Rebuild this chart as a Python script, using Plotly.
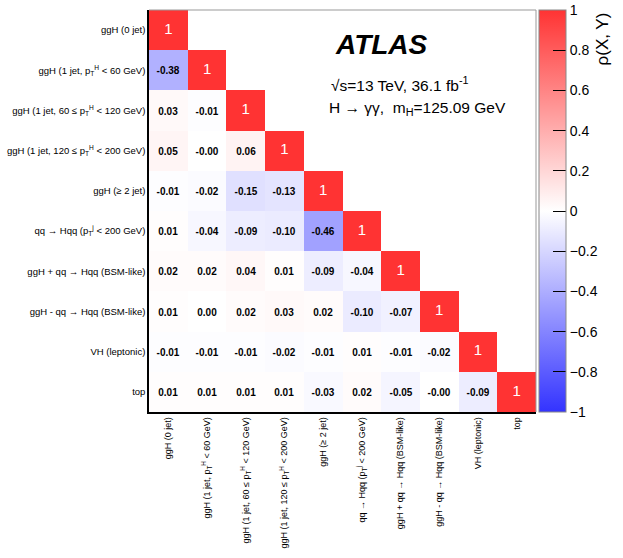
import plotly.graph_objects as go

# category names (rows top to bottom, columns left to right)
labels = [
    "ggH (0 jet)",
    "ggH (1 jet, p<sub>T</sub><sup>H</sup> &lt; 60 GeV)",
    "ggH (1 jet, 60 ≤ p<sub>T</sub><sup>H</sup> &lt; 120 GeV)",
    "ggH (1 jet, 120 ≤ p<sub>T</sub><sup>H</sup> &lt; 200 GeV)",
    "ggH (≥ 2 jet)",
    "qq → Hqq (p<sub>T</sub><sup>j</sup> &lt; 200 GeV)",
    "ggH + qq → Hqq (BSM-like)",
    "ggH - qq → Hqq (BSM-like)",
    "VH (leptonic)",
    "top",
]

# lower triangle of the correlation matrix, as printed
row0 = ["1"]
row1 = ["-0.38", "1"]
row2 = ["0.03", "-0.01", "1"]
row3 = ["0.05", "-0.00", "0.06", "1"]
row4 = ["-0.01", "-0.02", "-0.15", "-0.13", "1"]
row5 = ["0.01", "-0.04", "-0.09", "-0.10", "-0.46", "1"]
row6 = ["0.02", "0.02", "0.04", "0.01", "-0.09", "-0.04", "1"]
row7 = ["0.01", "0.00", "0.02", "0.03", "0.02", "-0.10", "-0.07", "1"]
row8 = ["-0.01", "-0.01", "-0.01", "-0.02", "-0.01", "0.01", "-0.01", "-0.02", "1"]
row9 = ["0.01", "0.01", "0.01", "0.01", "-0.03", "0.02", "-0.05", "-0.00", "-0.09", "1"]
rows = [row0, row1, row2, row3, row4, row5, row6, row7, row8, row9]

cbar_ticks = [-1, -0.8, -0.6, -0.4, -0.2, 0, 0.2, 0.4, 0.6, 0.8, 1]

n = len(labels)
z = []
txt = []
for r in rows:
    vals = [float(v) for v in r] + [None] * (n - len(r))
    t = list(r[:-1]) + [""] * (n - len(r) + 1)
    z.append(vals)
    txt.append(t)

FONT = "Liberation Sans, Arial, sans-serif"

fig = go.Figure()
fig.add_trace(go.Heatmap(
    z=z, x=list(range(n)), y=list(range(n)),
    text=txt, texttemplate="%{text}",
    textfont=dict(family=FONT, size=10, color="black", weight="bold"),
    zmin=-1, zmax=1,
    colorscale=[[0, "rgb(51,51,255)"], [0.5, "rgb(255,255,255)"], [1, "rgb(255,51,51)"]],
    hoverongaps=False,
    colorbar=dict(
        x=1.008, xanchor="left", y=0.5, yanchor="middle",
        len=1.01, lenmode="fraction", thickness=27, xpad=0, ypad=2,
        outlinewidth=1, outlinecolor="#888",
        tickvals=cbar_ticks,
        ticktext=["−" + f"{abs(v):g}" if v < 0 else f"{v:g}" for v in cbar_ticks],
        ticks="inside", ticklen=13, tickcolor="black",
        tickfont=dict(family=FONT, size=14, color="black"),
    ),
))

# diagonal "1" labels in white
fig.add_trace(go.Scatter(
    x=list(range(n)), y=list(range(n)), mode="text",
    text=[r[-1] for r in rows],
    textfont=dict(family=FONT, size=15, color="white"),
    hoverinfo="skip", showlegend=False,
))

fig.update_xaxes(
    tickvals=list(range(n)), ticktext=labels, tickangle=-90,
    tickfont=dict(family=FONT, size=9, color="black"),
    range=[-0.5, n - 0.5], showgrid=False, zeroline=False, automargin=False,
    showline=True, linecolor="black", linewidth=1.5, ticks="",
)
fig.update_yaxes(
    tickvals=list(range(n)), ticktext=labels,
    tickfont=dict(family=FONT, size=9.5, color="black"),
    range=[n - 0.5, -0.5], showgrid=False, zeroline=False, automargin=False,
    showline=True, linecolor="black", linewidth=1.5, ticks="",
)

# grey frame on top and right
fig.add_shape(type="line", xref="paper", yref="paper", x0=0, x1=1, y0=1, y1=1,
              line=dict(color="#999", width=1))
fig.add_shape(type="line", xref="paper", yref="paper", x0=1, x1=1, y0=0, y1=1,
              line=dict(color="#999", width=1))

fig.add_annotation(xref="paper", yref="paper", x=0.475, y=0.915, xanchor="left", yanchor="middle",
                   text="<b><i>ATLAS</i></b>", showarrow=False,
                   font=dict(family=FONT, size=28, color="black"))
fig.add_annotation(xref="paper", yref="paper", x=0.465, y=0.815, xanchor="left", yanchor="middle",
                   text="√s=13 TeV, 36.1 fb<sup>-1</sup>", showarrow=False,
                   font=dict(family=FONT, size=15.5, color="black"))
fig.add_annotation(xref="paper", yref="paper", x=0.46, y=0.755, xanchor="left", yanchor="middle",
                   text="H → γγ,  m<sub>H</sub>=125.09 GeV", showarrow=False,
                   font=dict(family=FONT, size=15.5, color="black"))
fig.add_annotation(xref="paper", yref="paper", x=1.173, y=1.0, xanchor="center", yanchor="top",
                   text="ρ(X, Y)", textangle=-90, showarrow=False,
                   font=dict(family=FONT, size=17, color="black"))

fig.update_layout(
    width=623, height=558,
    margin=dict(l=149, r=87, t=10, b=146, autoexpand=False),
    plot_bgcolor="white", paper_bgcolor="white",
    showlegend=False,
)

# drop the default page margin so the figure sits at the window corner
fig.write_html("out.html", config={"displayModeBar": False},
               post_script="document.body.style.margin='0';")
